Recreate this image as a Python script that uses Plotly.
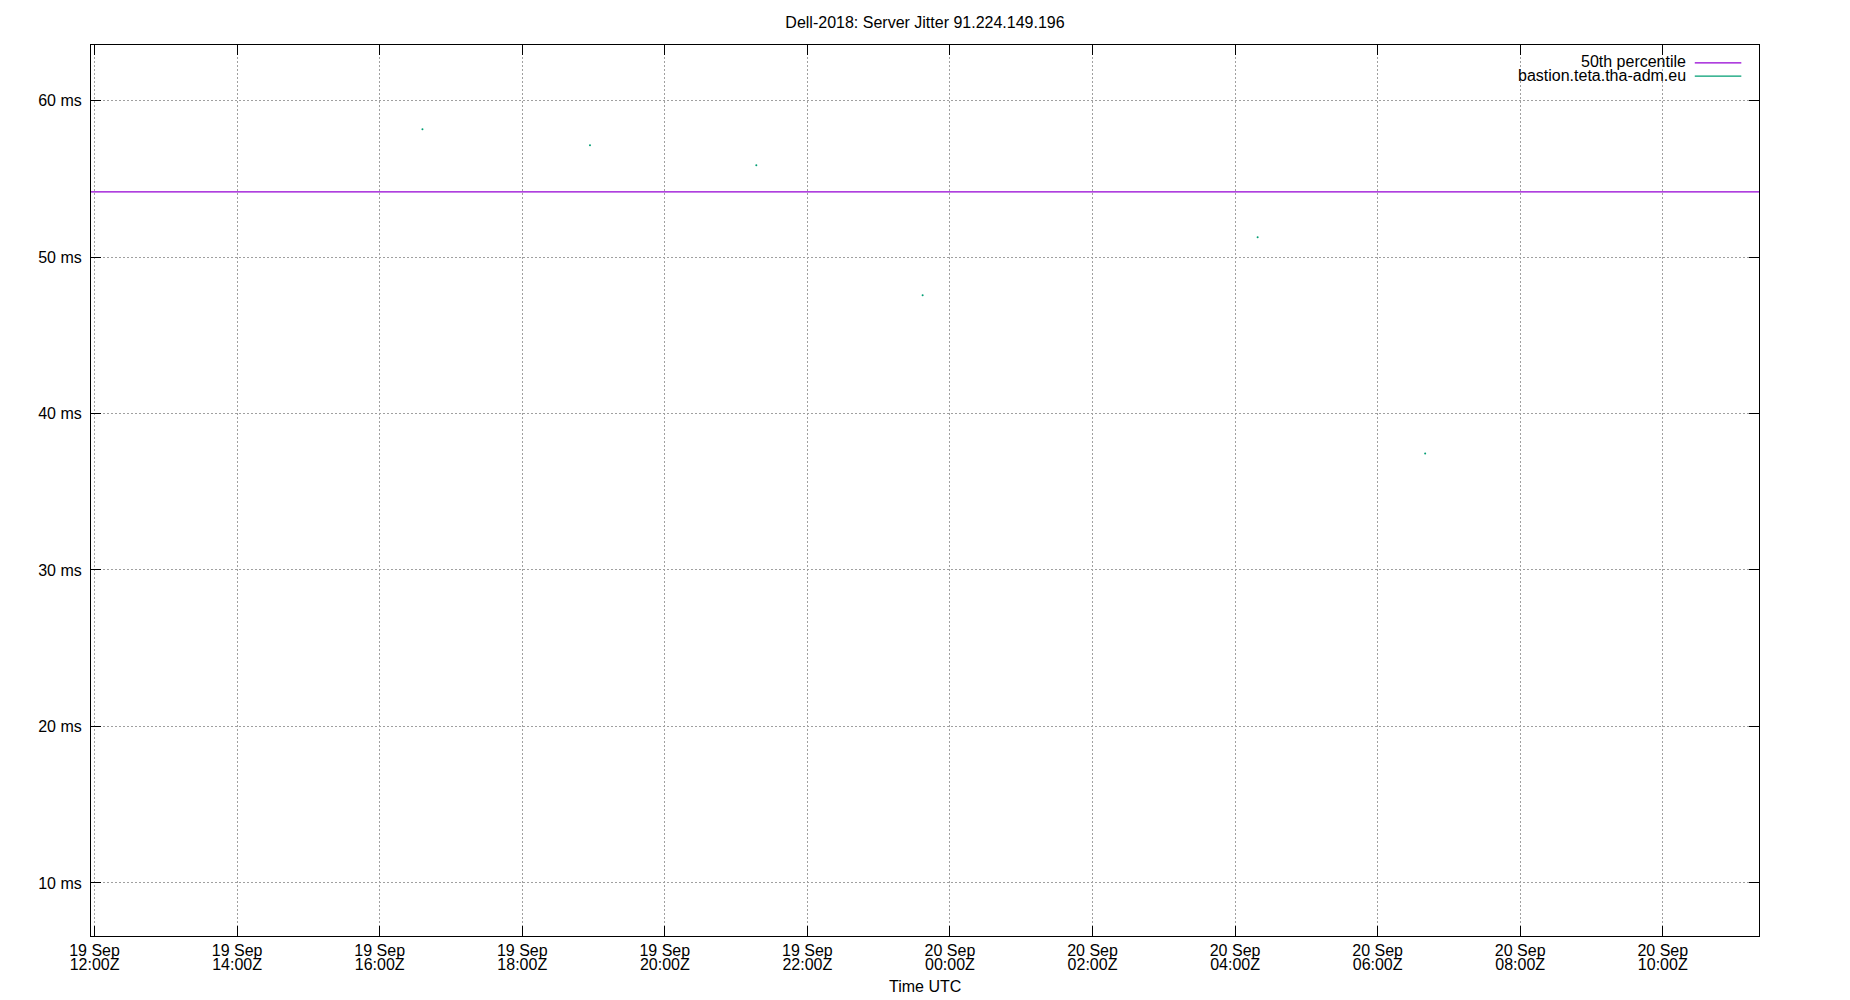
import plotly.graph_objects as go

# ================= DATA =================
TITLE = "Dell-2018: Server Jitter 91.224.149.196"

# 50th percentile (flat across the window)
pct_times = ["2018-09-19 11:57", "2018-09-20 11:21"]
pct_values = [54.16, 54.16]

# bastion.teta.tha-adm.eu jitter samples (isolated points)
bastion_times = [
    "2018-09-19 16:36", "2018-09-19 18:57", "2018-09-19 21:17",
    "2018-09-19 23:37", "2018-09-20 04:19", "2018-09-20 06:40",
]
bastion_values = [58.17, 57.15, 55.87, 47.55, 51.26, 37.44]

x_range = ["2018-09-19 11:57", "2018-09-20 11:21"]
y_range = [6.61, 63.55]

x_tickvals = [
    "2018-09-19 12:00", "2018-09-19 14:00", "2018-09-19 16:00", "2018-09-19 18:00",
    "2018-09-19 20:00", "2018-09-19 22:00", "2018-09-20 00:00", "2018-09-20 02:00",
    "2018-09-20 04:00", "2018-09-20 06:00", "2018-09-20 08:00", "2018-09-20 10:00",
]
x_date_labels = ["19 Sep"] * 6 + ["20 Sep"] * 6
x_time_labels = ["12:00Z", "14:00Z", "16:00Z", "18:00Z", "20:00Z", "22:00Z",
                 "00:00Z", "02:00Z", "04:00Z", "06:00Z", "08:00Z", "10:00Z"]
y_tickvals = [10, 20, 30, 40, 50, 60]
y_ticktext = [f"{v} ms" for v in y_tickvals]

legend_names = ["50th percentile", "bastion.teta.tha-adm.eu"]
PURPLE = "#9400d3"
TEAL = "#009e73"
FONT = "Liberation Sans"

# page body has an 8px margin, so the figure is a bit smaller and shifted
W, H = 1842, 992

# ================= FIGURE =================
fig = go.Figure()

fig.add_trace(go.Scatter(x=pct_times, y=pct_values, mode="lines",
                         line=dict(color=PURPLE, width=1.2),
                         name=legend_names[0], showlegend=False))
fig.add_trace(go.Scatter(x=bastion_times, y=bastion_values, mode="markers",
                         marker=dict(color=TEAL, size=2),
                         name=legend_names[1], showlegend=False))

# dummy trace so the second x axis is drawn (time labels row)
fig.add_trace(go.Scatter(x=[x_range[0]], y=[y_range[0]], xaxis="x2",
                         mode="markers", marker=dict(opacity=0),
                         showlegend=False, hoverinfo="skip"))

grid = dict(showgrid=True, gridcolor="#a0a0a0", gridwidth=1, griddash="2px,2px")

fig.update_layout(
    width=W, height=H,
    paper_bgcolor="white", plot_bgcolor="white",
    font=dict(family=FONT, size=16, color="black"),
    margin=dict(l=83, r=91, t=37, b=64),
    title=dict(text=TITLE, x=0.5, xref="paper", xanchor="center",
               y=1 - 14 / H, yanchor="middle", yref="container",
               font=dict(size=16)),
    xaxis=dict(type="date", range=x_range, tickmode="array",
               tickvals=x_tickvals, ticktext=x_date_labels,
               ticks="inside", ticklen=10, tickcolor="black", tickwidth=1,
               showline=True, linecolor="black", linewidth=1, mirror="ticks",
               zeroline=False, ticklabelstandoff=0, **grid),
    xaxis2=dict(type="date", range=x_range, overlaying="x", side="bottom",
                anchor="y", tickmode="array", tickvals=x_tickvals,
                ticktext=x_time_labels, ticks="", showline=False,
                showgrid=False, zeroline=False, ticklabelstandoff=17),
    yaxis=dict(range=y_range, tickmode="array", tickvals=y_tickvals,
               ticktext=y_ticktext,
               ticks="inside", ticklen=10, tickcolor="black", tickwidth=1,
               showline=True, linecolor="black", linewidth=1, mirror="ticks",
               zeroline=False, ticklabelstandoff=5, **grid),
    showlegend=False,
)

# ===== gnuplot-style key: text right, sample line on the right =====
key_rows_y = [0.9810, 0.9660]
key_colors = [PURPLE, TEAL]
for name, yy, col in zip(legend_names, key_rows_y, key_colors):
    fig.add_annotation(text=name, xref="paper", yref="paper", x=0.9577, y=yy,
                       xanchor="right", yanchor="middle", showarrow=False,
                       font=dict(size=16))
    fig.add_shape(type="line", xref="paper", yref="paper",
                  x0=0.9615, x1=0.9894, y0=yy - 0.001, y1=yy - 0.001,
                  line=dict(color=col, width=1.2))

# x axis title
fig.add_annotation(text="Time UTC", xref="paper", yref="paper", x=0.5, y=-0.057,
                   xanchor="center", yanchor="middle", showarrow=False,
                   font=dict(size=16))

fig.write_html("out.html")
